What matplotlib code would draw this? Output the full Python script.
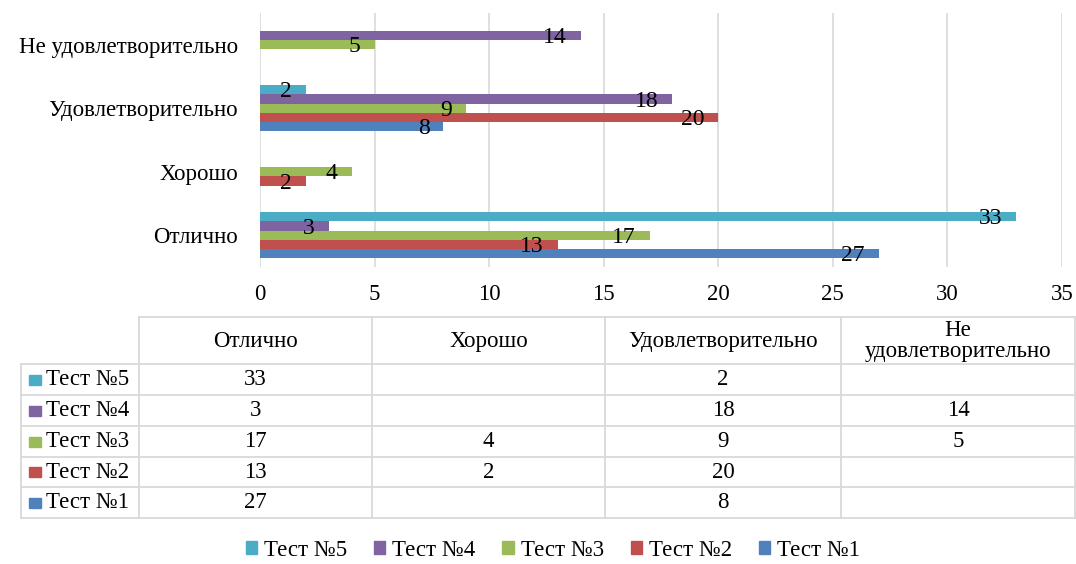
import matplotlib
matplotlib.use("Agg")
import matplotlib.pyplot as plt
from matplotlib.patches import Patch, Rectangle
from matplotlib.lines import Line2D

# ---------------- data ----------------
categories = ["Отлично", "Хорошо", "Удовлетворительно", "Не удовлетворительно"]
header_labels = ["Отлично", "Хорошо", "Удовлетворительно", "Не\nудовлетворительно"]
series_names = ["Тест №1", "Тест №2", "Тест №3", "Тест №4", "Тест №5"]
test1 = [27, None, 8, None]
test2 = [13, 2, 20, None]
test3 = [17, 4, 9, 5]
test4 = [3, None, 18, 14]
test5 = [33, None, 2, None]
series_values = [test1, test2, test3, test4, test5]
colors = ["#4F81BD", "#C0504D", "#9BBB59", "#8064A2", "#4BACC6"]
xticks = [0, 5, 10, 15, 20, 25, 30, 35]

plt.rcParams['font.family'] = ['Liberation Serif', 'DejaVu Serif']
FS = 16.5

W, H = 1076, 564
fig = plt.figure(figsize=(W / 100, H / 100), dpi=100)

def fx(x):
    return x / W

def fy(y):
    return 1 - y / H

# plot area in pixels
left, right, top, bottom = 260, 1062, 13, 267
ax = fig.add_axes([fx(left), fy(bottom), fx(right) - fx(left), fy(top) - fy(bottom)])

n = len(series_values)
bh = 0.146
for i, (vals, c) in enumerate(zip(series_values, colors)):
    for j, v in enumerate(vals):
        if v is None:
            continue
        yc = j + 0.5 + (i - (n - 1) / 2) * bh
        ax.barh(yc, v, height=bh, color=c, zorder=2)
        ax.annotate(str(v), xy=(v, yc), xytext=(-10, -1.5), textcoords='offset points',
                    ha='right', va='center', fontsize=17, color='black', zorder=3)

ax.set_xlim(0, 35)
ax.set_ylim(0, 4)
ax.set_xticks(xticks)
ax.set_yticks([j + 0.5 for j in range(len(categories))])
ax.set_yticklabels(categories)
ax.tick_params(axis='x', length=0, pad=12, labelsize=FS)
ax.tick_params(axis='y', length=0, pad=16, labelsize=FS)
ax.grid(axis='x', color='#d9d9d9', linewidth=1.2, zorder=0)
for s in ax.spines.values():
    s.set_visible(False)

# ---------------- data table ----------------
gc = '#d9d9d9'
lw = 1.3
col_edges = [139, 372, 605, 841, 1075]
row_edges = [364, 395, 426, 457, 487, 518]
header_top = 317
row_left = 21

def hline(y, x0, x1):
    fig.add_artist(Line2D([fx(x0), fx(x1)], [fy(y), fy(y)], color=gc, lw=lw))

def vline(x, y0, y1):
    fig.add_artist(Line2D([fx(x), fx(x)], [fy(y0), fy(y1)], color=gc, lw=lw))

hline(header_top, col_edges[0], col_edges[-1])
for y in row_edges:
    hline(y, row_left, col_edges[-1])
vline(row_left, row_edges[0], row_edges[-1])
for x in col_edges:
    vline(x, header_top, row_edges[-1])

for k, lab in enumerate(header_labels):
    xc = (col_edges[k] + col_edges[k + 1]) / 2
    fig.text(fx(xc), fy((header_top + row_edges[0]) / 2 + 1), lab, ha='center', va='center',
             fontsize=FS, linespacing=1.0)

order = list(range(n))[::-1]  # Тест №5 at top
for r, si in enumerate(order):
    yc = (row_edges[r] + row_edges[r + 1]) / 2
    fig.add_artist(Rectangle((fx(29), fy(yc + 5)), fx(12), fy(0) - fy(10),
                             transform=fig.transFigure, color=colors[si]))
    fig.text(fx(46), fy(yc), series_names[si], ha='left', va='center', fontsize=FS)
    for k, v in enumerate(series_values[si]):
        if v is None:
            continue
        xc = (col_edges[k] + col_edges[k + 1]) / 2
        fig.text(fx(xc), fy(yc), str(v), ha='center', va='center', fontsize=FS)

# ---------------- legend ----------------
handles = [Patch(color=colors[si]) for si in order]
labels = [series_names[si] for si in order]
fig.legend(handles, labels, loc='center', bbox_to_anchor=(fx(553), fy(550)), ncol=5,
           frameon=False, fontsize=FS, handlelength=0.5, handleheight=0.5,
           handletextpad=0.3, columnspacing=1.17, borderpad=0.2)

fig.savefig("out.png", dpi=100)
